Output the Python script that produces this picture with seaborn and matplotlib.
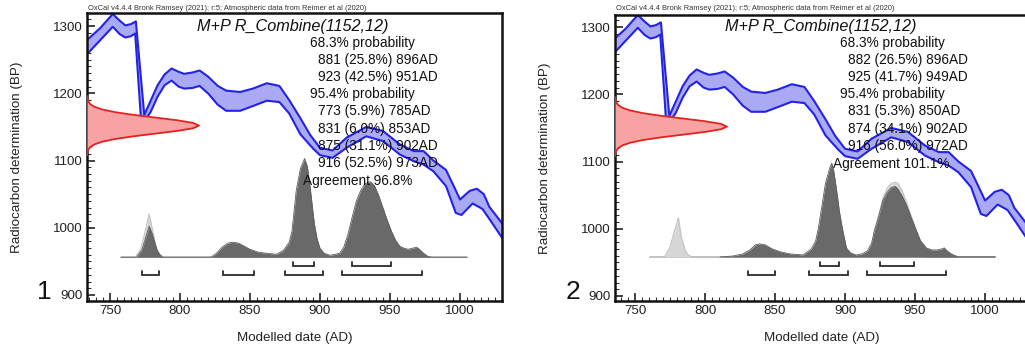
import numpy as np
import matplotlib
matplotlib.use("Agg")
import matplotlib.pyplot as plt
from matplotlib.ticker import MultipleLocator
import seaborn as sns

# ---------------- data ----------------
# calibration curve band (IntCal20), upper and lower edges (year AD, BP)
cal_upper_year = [734, 743, 752, 757, 761, 765, 768.5, 774.5, 778, 784, 789, 794, 799, 803, 809, 814,
                  820, 827, 833, 843, 852, 862, 871, 878, 886, 893, 900, 909, 919, 933, 945, 957,
                  967, 974, 981, 990, 996, 1000, 1007, 1012, 1017, 1021, 1031]
cal_upper_bp = [1280, 1297, 1318, 1308, 1301, 1303, 1307, 1168, 1184, 1212, 1228, 1237, 1232, 1229, 1231, 1234,
                1225, 1211, 1204, 1202, 1207, 1215, 1211, 1190, 1163, 1138, 1119, 1115, 1134, 1150, 1144, 1124,
                1114, 1114, 1100, 1086, 1060, 1042, 1055, 1058, 1050, 1031, 1004]
cal_lower_year = [734, 743, 752, 757, 761, 765, 768, 772, 776, 779, 784, 789, 794, 799, 803, 809, 814,
                  820, 827, 833, 843, 852, 862, 871, 878, 886, 895, 900, 909, 919, 933, 945, 957,
                  967, 974, 981, 990, 997, 1001, 1009, 1016, 1022, 1031]
cal_lower_bp = [1259, 1279, 1299, 1288, 1283, 1285, 1289, 1166, 1163, 1172, 1195, 1212, 1219, 1210, 1207, 1208, 1211,
                1200, 1183, 1174, 1174, 1181, 1189, 1187, 1170, 1139, 1118, 1108, 1104, 1119, 1136, 1129, 1109,
                1099, 1094, 1084, 1062, 1022, 1019, 1036, 1028, 1010, 982]

# R_Combine(1152,12) likelihood: BP offsets from the mean and relative density
red_mean = 1152
red_offset = [-44, -40, -36, -32, -28, -24, -20, -16, -12, -8, -4, 0, 4, 8, 12, 16, 20, 24, 28, 32, 36, 40, 44]
red_density = [0.001, 0.004, 0.011, 0.029, 0.066, 0.135, 0.249, 0.411, 0.607, 0.801, 0.946, 1.0,
               0.946, 0.801, 0.607, 0.411, 0.249, 0.135, 0.066, 0.029, 0.011, 0.004, 0.001]

# panel 1: modelled date distributions (year AD, relative height)
p1_post_year = [758, 769, 773, 776, 778, 780, 783, 784, 786, 788, 822, 826, 830, 834, 838, 842, 846, 850,
                856, 862, 869, 874, 878, 880, 883, 886, 889, 891, 893, 896, 898, 900, 903, 907, 911, 914,
                917, 920, 923, 926, 929, 932, 936, 939, 942, 945, 948, 951, 954, 957, 960, 963, 966, 969,
                971, 974, 977, 980, 1005]
p1_post_h = [0, 0, 8, 22, 31, 24, 10, 6, 2, 0, 0, 4, 10, 14, 15, 14, 11, 8,
             5, 4, 3, 7, 15, 26, 66, 88, 98, 90, 69, 33, 18, 9, 4, 2, 3, 4,
             10, 23, 40, 56, 66, 73, 75, 71, 61, 49, 37, 26, 17, 11, 9, 8, 9, 10,
             8, 4, 1, 0, 0]
p1_like_year = [768, 772, 775, 778, 780, 783, 785, 788]
p1_like_h = [0, 8, 25, 43, 30, 10, 4, 0]

# panel 2
p2_post_year = [811, 820, 827, 832, 836, 839, 843, 848, 854, 861, 870, 876, 879, 881, 884, 886, 889, 890.5,
                892, 894, 896, 898, 901, 904, 908, 912, 916, 919, 921, 924, 927, 930, 933, 936, 938, 941,
                944, 947, 951, 954, 958, 962, 966, 969, 971, 973, 976, 981, 1007]
p2_post_h = [0, 1, 3, 7, 12, 13, 12, 8, 5, 3, 2, 8, 16, 29, 55, 73, 88, 93,
             85, 66, 45, 29, 9, 4, 2, 3, 6, 14, 26, 40, 56, 64, 69, 70, 67, 60,
             51, 40, 26, 16, 9, 7, 7, 8, 9, 6, 3, 0, 0]
p2_like_year = [771, 775, 778, 781, 783, 786, 788, 791, 918, 921, 924, 927, 930, 933, 936, 938, 941, 944, 947, 951, 955]
p2_like_h = [0, 10, 25, 39, 20, 6, 2, 0, 0, 26, 41, 58, 68, 73, 74, 73, 65, 54, 42, 26, 0]

p1_ranges68 = [(881, 896), (923, 951)]
p1_ranges95 = [(773, 785), (831, 853), (875, 902), (916, 973)]
p2_ranges68 = [(882, 896), (925, 949)]
p2_ranges95 = [(831, 850), (874, 902), (916, 972)]

p1_lines = ["68.3% probability", "881 (25.8%) 896AD", "923 (42.5%) 951AD",
            "95.4% probability", "773 (5.9%) 785AD", "831 (6.0%) 853AD",
            "875 (31.1%) 902AD", "916 (52.5%) 973AD"]
p1_agreement = "Agreement 96.8%"
p2_lines = ["68.3% probability", "882 (26.5%) 896AD", "925 (41.7%) 949AD",
            "95.4% probability", "831 (5.3%) 850AD", "874 (34.1%) 902AD",
            "916 (56.0%) 972AD"]
p2_agreement = "Agreement 101.1%"

title = "M+P R_Combine(1152,12)"
header = "OxCal v4.4.4 Bronk Ramsey (2021); r:5; Atmospheric data from Reimer et al (2020)"
x_ticks = [750, 800, 850, 900, 950, 1000]
y_ticks = [900, 1000, 1100, 1200, 1300]

# ---------------- style ----------------
sns.set_style("ticks")
plt.rcParams["font.family"] = ["Liberation Sans", "DejaVu Sans"]

W, H = 1025, 349
fig = plt.figure(figsize=(W / 100, H / 100), dpi=100)

BLUE_EDGE = "#2323e6"
BLUE_FILL = "#a9a9f4"
RED_EDGE = "#e32222"
RED_FILL = "#f7a3a3"
DARK = "#696969"
LIGHT = "#d6d6d6"

HSCALE = 1.5  # BP per unit of distribution height


def px(x, y):
    return x / W, 1 - y / H


def panel(rect, xlim, ylim, base, post_year, post_h, like_year, like_h, r68, r95,
          lines, agreement, x0, label, label_xy, dark_base_start=None):
    ax = fig.add_axes(rect)
    ax.set_xlim(*xlim)
    ax.set_ylim(*ylim)

    # calibration curve band
    poly_x = list(cal_upper_year) + list(cal_lower_year[::-1])
    poly_y = list(cal_upper_bp) + list(cal_lower_bp[::-1])
    ax.fill(poly_x, poly_y, color=BLUE_FILL, lw=0, zorder=1)
    sns.lineplot(x=cal_upper_year, y=cal_upper_bp, ax=ax, color=BLUE_EDGE, lw=1.5,
                 estimator=None, sort=False, zorder=2)
    sns.lineplot(x=cal_lower_year, y=cal_lower_bp, ax=ax, color=BLUE_EDGE, lw=1.5,
                 estimator=None, sort=False, zorder=2)

    # radiocarbon likelihood on the y axis
    ry = np.array(red_offset) + red_mean
    rx = xlim[0] + 80 * np.array(red_density)
    ax.fill_betweenx(ry, xlim[0], rx, color=RED_FILL, lw=0, zorder=3)
    ax.plot(rx, ry, color=RED_EDGE, lw=1.3, zorder=4)

    # baseline
    ax.plot([post_year[0] if dark_base_start is None else like_year[0] - 10, post_year[-1]],
            [base, base], color="#bdbdbd", lw=1.3, zorder=4)
    if dark_base_start is not None:
        ax.plot([dark_base_start, post_year[-1]], [base, base], color="#9a9a9a", lw=1.3, zorder=4)

    # likelihood (light) and posterior (dark)
    ly = base + HSCALE * np.array(like_h)
    ax.fill_between(like_year, base, ly, color=LIGHT, lw=0, zorder=5)
    ax.plot(like_year, ly, color="#c2c2c2", lw=0.8, zorder=5)
    py = base + HSCALE * np.array(post_h)
    ax.fill_between(post_year, base, py, color=DARK, lw=0, zorder=6)
    ax.plot(post_year, py, color="#5e5e5e", lw=0.6, zorder=6)

    # range brackets
    for rng, lev in ((r68, base - 13), (r95, base - 27)):
        for a, b in rng:
            ax.plot([a, a, b, b], [lev + 6, lev, lev, lev + 6], color="#2b2b2b", lw=1.3,
                    zorder=7, solid_joinstyle="miter")

    # axes styling
    for s in ax.spines.values():
        s.set_linewidth(1.8)
        s.set_color("#111111")
    ax.set_xticks(x_ticks)
    ax.set_yticks(y_ticks)
    ax.xaxis.set_minor_locator(MultipleLocator(5))
    ax.yaxis.set_minor_locator(MultipleLocator(10))
    ax.tick_params(which="major", direction="in", length=6, width=1.1, labelsize=9.6,
                   colors="#111111", labelcolor="#222222", pad=3)
    ax.tick_params(which="minor", direction="in", length=3, width=0.8, colors="#333333")
    ax.set_xlabel("Modelled date (AD)", fontsize=9.6, color="#222222", labelpad=11)
    ax.set_ylabel("Radiocarbon determination (BP)", fontsize=9.6, color="#222222", labelpad=22)

    left_px = rect[0] * W
    # header
    fig.text(*px(left_px + 1, 8), header, fontsize=5.4, color="#333333", va="center", ha="left")
    # title
    fig.text(*px(left_px + 206, 27), title, fontsize=11.7, style="italic", color="#111111",
             va="center", ha="center")
    # probability lines
    y = 43
    for t in lines:
        indent = 0 if "probability" in t else 8
        fig.text(*px(left_px + x0 + indent, y), t, fontsize=9.8, color="#111111",
                 va="center", ha="left", zorder=10)
        y += 17.1
    fig.text(*px(left_px + x0 - 7, y + 1.5), agreement, fontsize=9.8, color="#111111",
             va="center", ha="left", zorder=10)
    fig.text(*px(*label_xy), label, fontsize=19, color="#111111", va="center", ha="center")
    return ax


ax1 = panel([87 / W, 1 - 301 / H, 415 / W, 288 / H], (733.6, 1030), (891, 1319.5), 956,
            p1_post_year, p1_post_h, p1_like_year, p1_like_h, p1_ranges68, p1_ranges95,
            p1_lines, p1_agreement, 223, "1", (44, 292))
ax2 = panel([615 / W, 1 - 301 / H, 413 / W, 286 / H], (735.7, 1030.7), (892.5, 1318), 958,
            p2_post_year, p2_post_h, p2_like_year, p2_like_h, p2_ranges68, p2_ranges95,
            p2_lines, p2_agreement, 225, "2", (573, 292), dark_base_start=811)

fig.savefig("out.png", dpi=100)
